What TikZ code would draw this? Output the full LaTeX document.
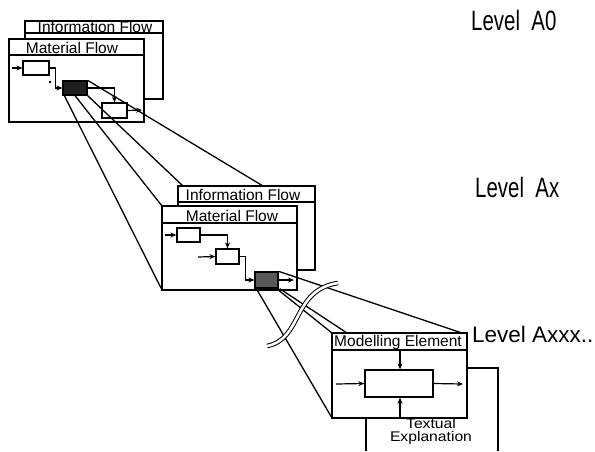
\documentclass[tikz,border=0pt]{standalone}
\usepackage{fontspec}
\setmainfont{Liberation Sans}
\usetikzlibrary{arrows.meta,fit,patterns}
\begin{document}
\begin{tikzpicture}[x=1pt,y=-1pt,
  box/.style={draw, line width=1.5pt, fill=white, inner sep=0pt},
  sbox/.style={draw, line width=1.3pt, fill=white, inner sep=0pt},
  darkbox/.style={draw, line width=1.3pt, fill=black!88, inner sep=0pt},
  hatchbox/.style={draw, line width=1.3pt, fill=black!65, inner sep=0pt},
  ln/.style={line width=1.3pt},
  arr/.style={line width=1.2pt, -{Stealth[length=6pt,width=5pt]}},
  hdr/.style={font=\fontsize{15.5}{15.5}\selectfont, inner sep=0pt, anchor=base},
  proj/.style={line width=1.3pt},
  brk/.style={line width=1pt, double=white, double distance=2.6pt},
  lvl/.style={inner sep=0pt, anchor=base west},
]
\useasboundingbox (0,0) rectangle (595,451);

% ---------------- Level A0 ----------------
\node[box, fit={(25,21) (163,99)}] (info0) {};
\draw[ln] (info0.west |- 0,33) -- (info0.east |- 0,33);
\node[hdr] (info0t) at (95,32.5) {Information Flow};
\node[box, fit={(9,39) (144,122)}] (mat0) {};
\draw[ln] (mat0.west |- 0,55) -- (mat0.east |- 0,55);
\node[hdr] (mat0t) at (72,53) {Material Flow};

\node[sbox, fit={(23,61) (49,75)}] (a0b1) {};
\node[darkbox, fit={(63,81) (87,95)}] (a0dk) {};
\node[sbox, fit={(102,103) (127,118)}] (a0b3) {};
\coordinate (a0in) at (12,68);
\coordinate (a0out) at (142,110);
\fill (50,82) circle (1.3pt);
\draw[arr] (a0in) -- (a0b1.west);
\draw[arr] (a0b1.east) -- ++(6,0) |- (a0dk.west);
\draw[arr] (a0dk.east) -| (a0b3.north);
\draw[arr] (a0b3.east) -- (a0out);

% ---------------- projection A0 -> Ax ----------------
\coordinate (p1) at (162,290);
\coordinate (p2) at (162,206);
\coordinate (p3) at (183,186);
\coordinate (p4) at (263,186);
\draw[proj] (a0dk.south west) ++(2,0) -- (p1);
\draw[proj] (a0dk.south) -- (p2);
\draw[proj] (a0dk.south east) -- (p3);
\draw[proj] (a0dk.north east) -- (p4);

% ---------------- Level Ax ----------------
\node[box, fit={(178,186) (315,270)}] (infox) {};
\draw[ln] (infox.west |- 0,202) -- (infox.east |- 0,202);
\node[hdr] (infoxt) at (243,200.5) {Information Flow};
\node[box, fit={(162,206) (297,290)}] (matx) {};
\draw[ln] (matx.west |- 0,223) -- (matx.east |- 0,223);
\node[hdr] (matxt) at (232,221) {Material Flow};

\node[sbox, fit={(177,228) (200,242)}] (axb1) {};
\node[sbox, fit={(216,249) (239,264)}] (axb2) {};
\node[hatchbox, fit={(255,272) (278,288)}] (axdk) {};
\coordinate (axin1) at (165,235);
\coordinate (axin2) at (198,257);
\coordinate (axout) at (294,280);
\draw[arr] (axin1) -- (axb1.west);
\draw[arr] (axb1.east) -| (axb2.north);
\draw[arr] (axin2) -- (axb2.west);
\draw[arr] (axb2.east) -- ++(6,0) |- (axdk.west);
\draw[arr] (axdk.east) -- (axout);

% ---------------- projection Ax -> Axxx ----------------
\coordinate (q1) at (462,333);
\coordinate (q2) at (347,333);
\coordinate (q3) at (332,333);
\coordinate (q4) at (332,418);
\draw[proj] (axdk.north east) -- (q1);
\draw[proj] (axdk.south east) ++(1,0) -- (q2);
\draw[proj] (axdk.south east) ++(-2,0) -- (q3);
\draw[proj] (axdk.south west) ++(2,0) -- (q4);

% break symbol
\draw[brk] (267,346) .. controls (303,339) and (292,290) .. (338,283);

% ---------------- Level Axxx ----------------
\node[box, fit={(332,333) (467,418)}] (mod) {};
\draw[ln] (mod.west |- 0,350) -- (mod.east |- 0,350);
\node[hdr] (modt) at (398,346.5) {Modelling Element};
\node[sbox, fit={(365,370) (433,397)}] (elem) {};
\coordinate (ein) at (336,384);
\coordinate (eout) at (463,384);
\coordinate (etop) at (400,350);
\coordinate (ebot) at (400,417);
\draw[arr] (ein) -- (elem.west);
\draw[arr] (elem.east) -- (eout);
\draw[arr] (etop) -- (elem.north -| etop);
\draw[arr] (ebot) -- (elem.south -| ebot);

\coordinate (rl1) at (498,368);
\coordinate (rl2) at (498,451);
\coordinate (ll1) at (366,418);
\coordinate (ll2) at (366,451);
\draw[ln] (mod.east |- rl1) -- (rl1) -- (rl2);
\draw[ln] (ll1) -- (ll2);
\node[inner sep=0pt, anchor=base] (txt1) at (431,428.5) {\scalebox{1.12}[1]{\fontsize{14}{14}\selectfont Textual}};
\node[inner sep=0pt, anchor=base] (txt2) at (431,441.5) {\scalebox{1.12}[1]{\fontsize{14}{14}\selectfont Explanation}};

% ---------------- Level labels ----------------
\node[lvl] (lA0) at (471,30) {\scalebox{0.73}[1]{\fontsize{28}{28}\selectfont Level\ \ A0}};
\node[lvl] (lAx) at (475,197) {\scalebox{0.73}[1]{\fontsize{28}{28}\selectfont Level\ \ Ax}};
\node[lvl] (lAxxx) at (472,342) {\fontsize{22.5}{22.5}\selectfont Level Axxx..};
\end{tikzpicture}
\end{document}
